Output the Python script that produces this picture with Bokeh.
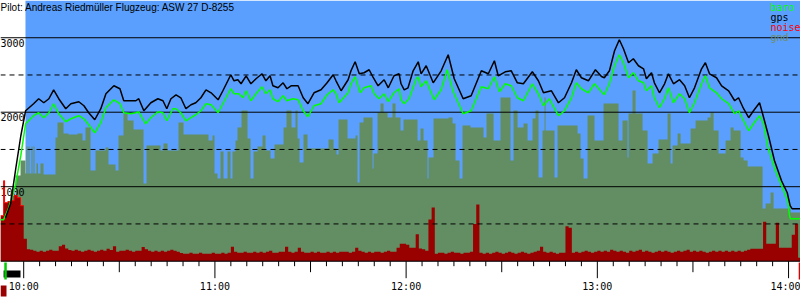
import numpy as np
from bokeh.plotting import figure
from bokeh.models import Range1d, BoxAnnotation
from bokeh.core.properties import value
from bokeh.embed import file_html
from bokeh.resources import INLINE

# ---------------- data (time in minutes after 10:00, altitude in m) ----------------
pilot_title = "Pilot: Andreas Riedmüller Flugzeug: ASW 27 D-8255"
legend_names = ["baro", "gps", "noise", "gnd"]
hour_ticks = [0, 60, 120, 180, 240]
hour_labels = ["10:00", "11:00", "12:00", "13:00", "14:00"]
alt_solid = [1000, 2000, 3000]
alt_dashed = [500, 1500, 2500]
alt_labels = ["1000", "2000", "3000"]

gps_t = [-5.7, -4.1, -2.5, -0.9, 0.6, 3.1, 4.7, 6.3, 7.9, 9.4,
         11.0, 13.2, 14.8, 17.3, 18.9, 20.4, 22.3, 24.2, 25.8, 28.3,
         30.2, 31.4, 33.6, 35.2, 36.1, 37.7, 39.9, 42.1, 43.7, 44.9,
         46.2, 47.8, 49.3, 50.9, 52.5, 54.0, 55.6, 57.2, 58.8, 61.0,
         62.5, 65.0, 66.0, 67.2, 68.2, 69.8, 71.3, 72.9, 74.8, 76.0,
         77.3, 78.2, 79.8, 81.4, 82.6, 83.9, 86.1, 87.7, 89.2, 91.1,
         93.3, 95.2, 97.1, 98.0, 99.6, 101.8, 102.7, 104.0, 105.3, 106.8,
         108.4, 109.7, 111.2, 113.1, 114.4, 116.2, 117.8, 118.4, 119.4, 120.6,
         122.2, 123.8, 124.7, 126.3, 128.5, 131.0, 133.2, 135.1, 137.9, 140.4,
         143.6, 145.8, 147.7, 148.9, 151.1, 153.0, 154.9, 156.8, 159.6, 161.5,
         163.1, 165.6, 167.8, 169.7, 171.9, 173.4, 175.0, 177.2, 179.4, 181.3,
         182.2, 183.8, 185.4, 186.9, 188.2, 189.8, 191.3, 192.9, 194.5, 195.4,
         197.0, 197.9, 199.5, 201.1, 202.3, 203.9, 205.8, 207.4, 208.9, 210.5,
         212.7, 213.9, 215.2, 217.4, 219.0, 221.2, 223.1, 224.3, 225.9, 227.5,
         229.0, 230.9, 232.2, 233.7, 235.6, 237.8, 239.6, 240.5, 241.1, 243.8]
gps_alt = [584, 772, 1241, 1684, 2020, 2114, 2181, 2127, 2181, 2301,
           2181, 2047, 2114, 2141, 2087, 1993, 1899, 2047, 2248, 2355,
           2315, 2154, 2154, 2154, 2181, 2020, 2127, 2181, 2154, 2047,
           2181, 2234, 2194, 2047, 2100, 2127, 2194, 2301, 2261, 2167,
           2288, 2503, 2422, 2436, 2382, 2489, 2382, 2449, 2516, 2422,
           2489, 2355, 2328, 2395, 2315, 2355, 2355, 2194, 2114, 2261,
           2301, 2395, 2503, 2422, 2288, 2436, 2556, 2677, 2516, 2530,
           2570, 2463, 2355, 2436, 2328, 2489, 2516, 2382, 2301, 2328,
           2556, 2677, 2516, 2624, 2395, 2556, 2771, 2449, 2181, 2221,
           2556, 2516, 2691, 2489, 2543, 2556, 2395, 2382, 2543, 2422,
           2261, 2288, 2127, 2194, 2395, 2570, 2463, 2422, 2570, 2480,
           2463, 2556, 2825, 2973, 2852, 2664, 2718, 2624, 2583, 2449,
           2530, 2395, 2261, 2382, 2516, 2382, 2436, 2355, 2194, 2328,
           2583, 2664, 2516, 2463, 2355, 2288, 2154, 2194, 2047, 1926,
           2020, 2127, 1926, 1684, 1349, 1080, 919, 745, 705, 705]

baro_t = [-7.3, -6.3, -4.7, -2.5, -0.9, 0.6, 3.1, 4.7, 6.3, 7.9,
          9.4, 11.0, 13.2, 14.8, 17.3, 18.9, 20.4, 22.3, 24.2, 25.8,
          28.3, 30.2, 31.4, 33.6, 35.2, 36.1, 38.3, 39.9, 42.1, 43.7,
          44.9, 46.8, 47.8, 49.3, 50.9, 52.5, 54.0, 55.6, 57.2, 58.8,
          61.0, 62.5, 65.0, 66.0, 67.5, 68.8, 69.8, 71.3, 72.9, 74.8,
          76.0, 77.3, 78.2, 79.8, 81.4, 82.6, 84.5, 86.1, 87.7, 89.2,
          91.1, 93.3, 95.2, 97.1, 98.0, 99.0, 101.8, 102.7, 104.0, 105.6,
          106.8, 109.0, 110.0, 111.5, 113.1, 114.4, 116.2, 117.8, 118.4, 119.4,
          120.9, 123.2, 123.8, 124.7, 126.3, 128.8, 131.0, 132.9, 134.8, 137.9,
          140.4, 143.6, 145.8, 147.7, 149.3, 151.1, 153.0, 154.9, 156.8, 159.6,
          161.5, 163.1, 164.9, 167.8, 169.7, 171.9, 173.4, 175.0, 177.2, 179.1,
          181.3, 182.2, 183.8, 185.4, 186.9, 188.2, 189.8, 191.3, 192.9, 194.5,
          195.4, 197.0, 197.9, 199.5, 201.1, 202.3, 203.9, 205.8, 207.4, 208.9,
          210.5, 212.7, 213.9, 215.2, 217.4, 219.0, 221.2, 223.1, 224.3, 225.9,
          227.5, 229.0, 230.9, 232.2, 233.4, 235.9, 238.1, 239.7, 240.3, 240.6, 243.8]
baro_alt = [557, 557, 718, 1040, 1420, 1845, 1953, 1993, 1926, 1993,
            2114, 1979, 1872, 1912, 1953, 1912, 1832, 1724, 1859, 2060,
            2167, 2114, 1993, 1979, 1993, 2006, 1845, 1926, 2006, 1993,
            1885, 2047, 2047, 1993, 1885, 1926, 1966, 2020, 2114, 2100,
            1993, 2114, 2315, 2248, 2248, 2194, 2288, 2154, 2248, 2342,
            2248, 2301, 2181, 2141, 2221, 2154, 2181, 2167, 2020, 1939,
            2087, 2114, 2234, 2301, 2248, 2127, 2261, 2382, 2476, 2261,
            2328, 2355, 2248, 2181, 2248, 2141, 2261, 2315, 2167, 2114,
            2181, 2449, 2476, 2342, 2422, 2167, 2301, 2570, 2275, 1979,
            2020, 2342, 2315, 2476, 2275, 2382, 2355, 2194, 2154, 2382,
            2248, 2087, 2181, 1953, 2020, 2194, 2395, 2315, 2261, 2382,
            2275, 2234, 2382, 2624, 2771, 2664, 2463, 2530, 2422, 2395,
            2288, 2355, 2194, 2060, 2181, 2328, 2127, 2248, 2181, 1993,
            2127, 2382, 2489, 2328, 2261, 2181, 2114, 1979, 2020, 1885,
            1751, 1845, 1953, 1845, 1550, 1215, 986, 812, 611, 570, 570]

gnd_t = [-7.28, -4.14, -2.57, -1.0, 0.56, 0.88, 1.19, 1.51, 1.82, 2.45,
         2.76, 3.08, 3.39, 4.02, 4.49, 5.27, 6.21, 9.98, 10.61, 12.49,
         14.06, 16.88, 18.45, 19.39, 20.96, 22.53, 25.67, 26.61, 28.81, 29.75,
         31.32, 32.58, 34.46, 37.6, 38.54, 42.93, 43.87, 45.13, 48.58, 50.15,
         57.99, 59.25, 59.87, 60.82, 61.76, 62.7, 63.95, 64.89, 65.52, 66.46,
         67.09, 68.35, 70.23, 71.17, 72.11, 73.37, 74.94, 75.88, 77.45, 78.71,
         81.53, 82.47, 84.04, 85.29, 85.92, 86.55, 87.8, 89.06, 95.65, 97.22,
         98.16, 98.79, 101.61, 104.12, 104.75, 105.38, 106.63, 109.46, 109.77, 111.03,
         111.97, 112.91, 114.17, 115.73, 116.67, 118.24, 119.18, 123.58, 124.52, 125.46,
         126.71, 127.03, 128.6, 133.3, 134.56, 135.5, 136.76, 137.7, 140.21, 144.29,
         145.23, 147.43, 149.62, 152.76, 153.7, 154.96, 156.84, 158.1, 159.67, 160.61,
         161.55, 162.8, 163.43, 163.75, 166.57, 167.51, 173.79, 174.73, 175.67, 176.93,
         179.12, 181.95, 186.65, 187.91, 189.48, 189.79, 191.05, 191.99, 194.19, 195.76,
         197.33, 199.21, 202.04, 202.98, 203.61, 205.18, 206.12, 209.26, 210.83, 214.59,
         215.53, 216.48, 218.05, 220.24, 221.81, 222.75, 224.95, 225.89, 227.15, 231.85,
         232.79, 234.36, 235.3, 240.64]
gnd_alt = [587, 882, 1151, 1352, 1178, 1540, 1178, 1540, 1178, 1540,
           1178, 1540, 1178, 1312, 1178, 1312, 1164, 1661, 1862, 1715,
           1701, 1715, 1621, 1795, 1218, 1486, 1527, 1298, 1218, 1688,
           1983, 1889, 1768, 1043, 1553, 1486, 1580, 1486, 1862, 1701,
           1621, 1688, 1178, 1110, 1473, 1110, 1473, 1110, 1473, 1621,
           1795, 2023, 1647, 1110, 1473, 1540, 1688, 1486, 1379, 1567,
           1795, 2023, 1795, 2023, 1647, 1325, 1701, 1513, 1634, 1513,
           1433, 1903, 1647, 1688, 1057, 1862, 1929, 1245, 1446, 1997,
           2117, 1997, 1929, 2117, 1929, 1755, 1903, 1621, 1782, 1621,
           1110, 1392, 1916, 1929, 1849, 1352, 1110, 1822, 1795, 1661,
           1983, 1621, 2198, 1352, 2023, 1795, 1849, 1621, 1916, 2023,
           1124, 1755, 2198, 1755, 1124, 1822, 1715, 1379, 1110, 1956,
           1621, 2117, 1621, 1889, 1392, 1983, 2292, 1983, 1755, 1312,
           1446, 1634, 1983, 1312, 1553, 1715, 1580, 1782, 1889, 1929,
           1997, 1755, 1446, 1621, 1795, 1755, 1392, 1352, 1272, 708,
           775, 922, 708, 654]

noise_t = [-7.28, -6.3, -6.0, -5.0, -4.0, -3.0, -2.0, -1.0, 0.0] + list(range(1, 245))
noise_v = [610, 1080, 785, 800, 812, 879, 852, 745, 300,
           160, 154, 141, 128, 141, 128, 141, 154, 141, 141,
           200, 220, 170, 150, 141, 154, 141, 128, 141, 154,
           141, 128, 141, 154, 141, 168, 150, 200, 128, 141,
           141, 154, 141, 128, 141, 141, 190, 160, 141, 128,
           141, 128, 141, 128, 141, 154, 141, 128, 110, 100,
           100, 114, 100, 100, 114, 100, 100, 100, 114, 100,
           100, 114, 100, 114, 195, 128, 114, 114, 128, 114,
           114, 128, 114, 128, 114, 128, 141, 114, 114, 128,
           128, 195, 128, 114, 128, 181, 128, 114, 114, 128,
           114, 128, 114, 114, 128, 114, 128, 114, 128, 128,
           128, 114, 128, 181, 141, 128, 114, 128, 114, 128,
           128, 114, 128, 141, 128, 128, 181, 235, 235, 220,
           181, 181, 360, 170, 160, 141, 560, 720, 100, 114,
           114, 100, 114, 128, 114, 114, 100, 114, 114, 128,
           500, 760, 114, 100, 114, 100, 114, 128, 114, 100,
           114, 128, 114, 100, 114, 128, 114, 100, 114, 128,
           141, 195, 128, 114, 128, 114, 100, 114, 114, 470,
           450, 114, 128, 114, 128, 141, 128, 114, 128, 141,
           128, 141, 128, 154, 141, 128, 141, 128, 114, 141,
           128, 141, 154, 128, 141, 128, 114, 128, 141, 128,
           141, 128, 114, 128, 141, 128, 141, 154, 128, 141,
           128, 141, 128, 114, 128, 141, 128, 141, 128, 141,
           128, 141, 128, 141, 128, 141, 154, 168, 168, 168,
           168, 530, 235, 235, 235, 517, 181, 181, 181, 181,
           355, 503, 47, 47]

sky_start = 0.56      # start of the sky-blue panel
takeoff_t = -5.7
landing_t = 243.5
engine_on_t = -6.3
engine_off_t = -1.0

# ---------------- layout / style ----------------
W, H = 800, 300
X0, X1 = -7.28, 243.75
Y0, Y1 = -528.0, 3500.0
MPP = (Y1 - Y0) / H
TPP = (X1 - X0) / W


def ypx(py):
    return Y1 - py * MPP


def xpx(px):
    return X0 + px * TPP


SKY = "#5a9ffd"
GND = "#638e63"
NOISE_FILL = "#990000"
MONO = value("DejaVu Sans Mono")


def steps(t, v, t_end):
    edges = np.append(np.asarray(t, float), t_end)
    xs = np.repeat(edges, 2)[1:-1]
    ys = np.repeat(np.asarray(v, float), 2)
    return xs, ys


p = figure(width=W, height=H, x_range=Range1d(X0, X1), y_range=Range1d(Y0, Y1),
           x_axis_location=None, y_axis_location=None, toolbar_location=None,
           output_backend="svg", min_border=0, outline_line_color=None,
           background_fill_color="white", border_fill_color="white")
p.xgrid.visible = False
p.ygrid.visible = False

p.add_layout(BoxAnnotation(left=sky_start, bottom=0, fill_color=SKY, fill_alpha=1.0,
                           line_color=None, level="underlay"))

gx, gy = steps(gnd_t, gnd_alt, X1)
p.varea(x=gx, y1=0, y2=gy, fill_color=GND, fill_alpha=1.0)

p.text(x=[xpx(0)] * len(alt_solid), y=alt_solid, text=alt_labels, text_font=MONO,
       text_font_size="10px", text_baseline="top", text_align="left", text_color="black",
       y_offset=1)

nx, ny = steps(noise_t, noise_v, X1)
p.varea(x=nx, y1=0, y2=ny, fill_color=NOISE_FILL, fill_alpha=1.0)
n_hot = 8
hx, hy = steps(noise_t[:n_hot], noise_v[:n_hot], noise_t[n_hot])
p.line(hx, hy, line_color="#ff0000", line_width=1)

p.segment(x0=[X0] * 3, y0=alt_solid, x1=[X1] * 3, y1=alt_solid, line_color="black", line_width=1)
p.segment(x0=[X0] * 3, y0=alt_dashed, x1=[X1] * 3, y1=alt_dashed, line_color="black",
          line_width=1, line_dash="5 4")

p.line(baro_t, baro_alt, line_color="#00ff00", line_width=1.5)
p.line(gps_t, gps_alt, line_color="black", line_width=1.5)

# time axis
p.segment(x0=[X0], y0=[0], x1=[X1], y1=[0], line_color="black", line_width=1)
tick_t = np.arange(hour_ticks[0], hour_ticks[-1] + 1, 5)
tick_len = np.where(tick_t % 60 == 0, 17, np.where(tick_t % 30 == 0, 11, 5)) * MPP
p.segment(x0=tick_t, y0=np.zeros(len(tick_t)), x1=tick_t, y1=-tick_len, line_color="black", line_width=1)
p.text(x=hour_ticks[:-1], y=[ypx(280)] * (len(hour_ticks) - 1), text=hour_labels[:-1], text_font=MONO,
       text_font_size="10px", text_baseline="top", text_align="center", text_color="black")
# last hour label kept inside the right edge
p.text(x=[X1], y=[ypx(280)], text=[hour_labels[-1]], text_font=MONO,
       text_font_size="10px", text_baseline="top", text_align="right", text_color="black")

# flight event markers
p.quad(left=[engine_on_t], right=[engine_off_t], top=[ypx(270)], bottom=[ypx(277)],
       fill_color="black", line_color=None)
p.segment(x0=[takeoff_t], y0=[ypx(262)], x1=[takeoff_t], y1=[ypx(279)], line_color="#00cc00", line_width=2.5)
p.segment(x0=[landing_t], y0=[ypx(262)], x1=[landing_t], y1=[ypx(279)], line_color="#dd0000", line_width=2)
p.quad(left=[X0], right=[xpx(6)], top=[ypx(285)], bottom=[ypx(296)], fill_color=NOISE_FILL, line_color=None)

# title and legend
p.text(x=[xpx(0)], y=[ypx(1)], text=[pilot_title], text_font=value("Liberation Sans"),
       text_font_size="10px", text_baseline="top", text_align="left", text_color="black")
legend_colors = ["#00ff00", "black", "#ff0000", "#6e8e6e"]
p.text(x=[xpx(770)] * 4, y=[ypx(1 + 10 * i) for i in range(4)], text=legend_names,
       text_color=legend_colors, text_font=MONO, text_font_size="10px",
       text_baseline="top", text_align="left")

open("out.html", "w").write(file_html(p, INLINE))
